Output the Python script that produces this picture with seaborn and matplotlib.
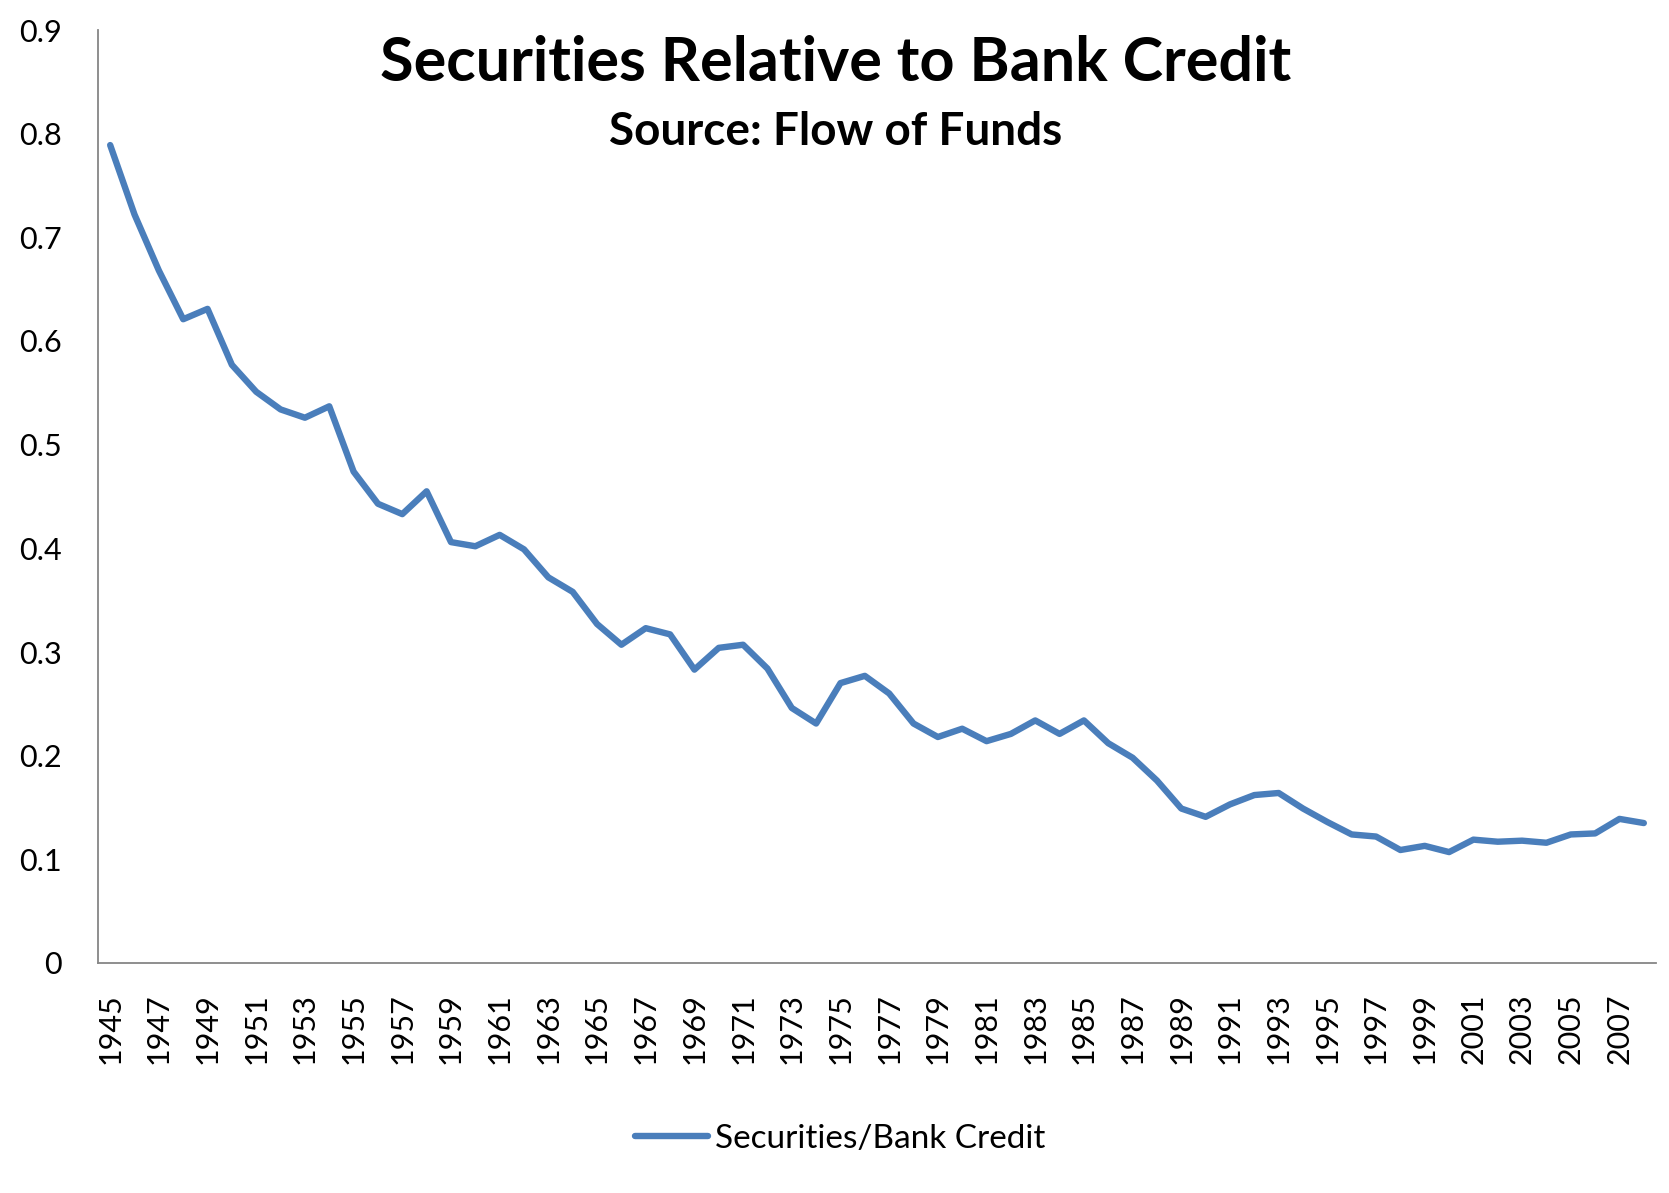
#!/usr/bin/env python3
## securities relative to bank credit, flow of funds

import matplotlib
matplotlib.use("Agg")
import matplotlib.pyplot as plt
import seaborn as sb
import pandas as pd

years = list(range(1945, 2009))
ratio = [0.789, 0.722, 0.668, 0.621, 0.631, 0.577, 0.551, 0.534, 0.526, 0.537,
         0.474, 0.443, 0.433, 0.455, 0.406, 0.402, 0.413, 0.399, 0.372, 0.358,
         0.327, 0.307, 0.323, 0.317, 0.283, 0.304, 0.307, 0.284, 0.246, 0.231,
         0.270, 0.277, 0.260, 0.231, 0.218, 0.226, 0.214, 0.221, 0.234, 0.221,
         0.234, 0.212, 0.198, 0.176, 0.149, 0.141, 0.153, 0.162, 0.164, 0.149,
         0.136, 0.124, 0.122, 0.109, 0.113, 0.107, 0.119, 0.117, 0.118, 0.116,
         0.124, 0.125, 0.139, 0.135]
ytick_vals = [0, 0.1, 0.2, 0.3, 0.4, 0.5, 0.6, 0.7, 0.8, 0.9]
ytick_labels = ["0", "0.1", "0.2", "0.3", "0.4", "0.5", "0.6", "0.7", "0.8", "0.9"]
xtick_years = years[::2]

df = pd.DataFrame({"year": years, "ratio": ratio})

sb.set_style("white")
plt.rcParams["font.family"] = ["Lato", "DejaVu Sans"]
plt.rcParams["text.color"] = "black"
plt.rcParams["xtick.color"] = "black"
plt.rcParams["ytick.color"] = "black"

fig = plt.figure(figsize=(16.69, 11.93), dpi=100)
ax = fig.add_axes([98 / 1669, 1 - 963 / 1193, 1558 / 1669, 933 / 1193])

sb.lineplot(data=df, x="year", y="ratio", ax=ax, color="#4A7EBB", linewidth=4.6,
            label="Securities/Bank Credit", legend=False)

ax.set_xlim(1944.5, 2008.5)
ax.set_ylim(0, 0.9)
ax.set_yticks(ytick_vals)
ax.set_yticklabels(ytick_labels, fontsize=22)
ax.set_xticks(xtick_years)
ax.set_xticklabels([str(y) for y in xtick_years], rotation=90, fontsize=22)
ax.tick_params(axis="y", length=0, pad=26)
ax.tick_params(axis="x", length=0, pad=22)
ax.set_xlabel("")
ax.set_ylabel("")

for side in ["top", "right"]:
    ax.spines[side].set_visible(False)
for side in ["left", "bottom"]:
    ax.spines[side].set_color("#868686")
    ax.spines[side].set_linewidth(1.3)

fig.text(836 / 1669, 1 - 63 / 1193, "Securities Relative to Bank Credit",
         ha="center", va="center", fontsize=44, fontweight="bold", color="black")
fig.text(836 / 1669, 1 - 132 / 1193, "Source: Flow of Funds",
         ha="center", va="center", fontsize=33, fontweight="bold", color="black")

handles, labels = ax.get_legend_handles_labels()
leg = fig.legend(handles, labels, loc="center", bbox_to_anchor=(840 / 1669, 1 - 1139 / 1193),
                 frameon=False, fontsize=24, handlelength=2.2, handletextpad=0.2)
for t in leg.get_texts():
    t.set_color("black")

fig.savefig("out.png", dpi=100)
plt.close(fig)
